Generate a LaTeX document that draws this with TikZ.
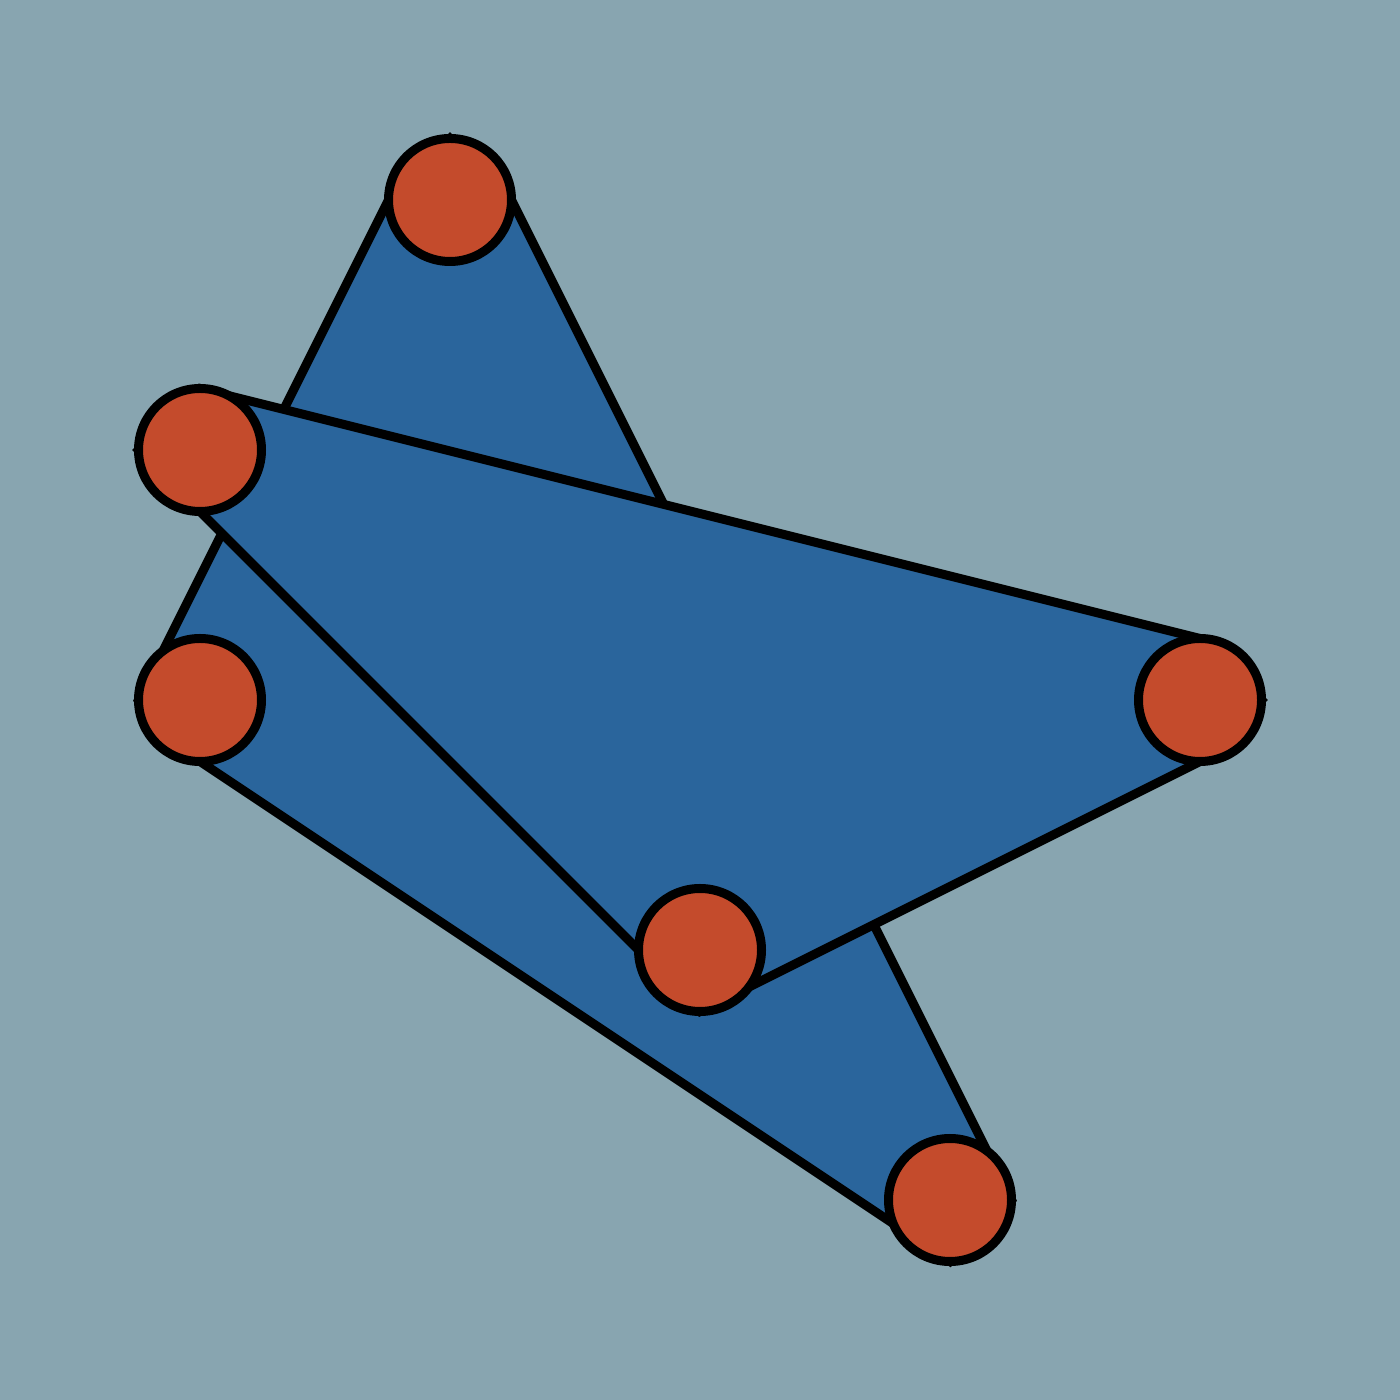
\documentclass[tikz,border=0pt]{standalone}
\usepackage{xcolor}
\usepackage{tikz}
\usetikzlibrary{backgrounds}
\definecolor{bgslate}{HTML}{88A5B0}
\definecolor{shapeblue}{HTML}{2A659C}
\definecolor{dotred}{HTML}{C44B2C}

\begin{document}
\begin{tikzpicture}[
    tri/.style={draw=black, fill=shapeblue, line width=0.09cm, line join=miter},
    dot/.style={circle, draw=black, fill=dotred, line width=0.09cm, minimum size=1.23cm, inner sep=0pt, outer sep=0pt}
]

\useasboundingbox (0,0) rectangle (14,14);

% Dots
\node[dot] (ntop) at (4.5,12) {};
\node[dot] (nleft) at (2,7) {};
\node[dot] (nbottom) at (9.5,2) {};
\node[dot] (nupleft) at (2,9.5) {};
\node[dot] (nright) at (12,7) {};
\node[dot] (nmid) at (7,4.5) {};

\begin{scope}[on background layer]
% Background
\fill[bgslate] (0,0) rectangle (14,14);

% Triangles
\draw[tri] (ntop.north) -- (ntop.west) -- (nleft.west) -- (nleft.south)
    -- (nbottom.south) -- (nbottom.east) -- (ntop.east) -- cycle;
\draw[tri] (nupleft.north) -- (nright.north) -- (nright.east) -- (nright.south)
    -- (nmid.south) -- (nmid.west) -- (nupleft.west) -- cycle;
\end{scope}

\end{tikzpicture}
\end{document}
